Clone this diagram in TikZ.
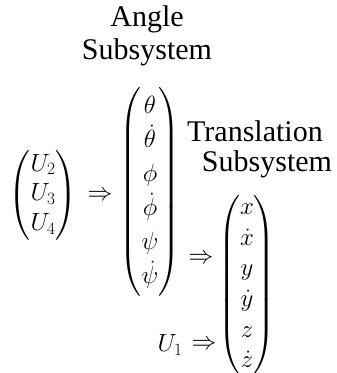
\documentclass[tikz,border=0pt]{standalone}
\usepackage{amsmath}
\usepackage{fontspec}
\setmainfont{Liberation Serif}
\begin{document}
\begin{tikzpicture}[x=1pt,y=-1pt,
  lbl/.style={inner sep=0pt,font=\fontsize{30}{33}\selectfont,align=center},
  mat/.style={inner sep=0pt,font=\fontsize{27}{34}\selectfont}]
\useasboundingbox (0,0) rectangle (337,373);
\node[lbl] (angle) at (147,36) {Angle\\Subsystem};
\node[lbl] (trans1) at (255,131) {Translation};
\node[lbl] (trans2) at (267,164) {Subsystem};
\node[mat] (inp) at (43,195) {$\renewcommand{\arraystretch}{0.88}\begin{pmatrix}U_2\\U_3\\U_4\end{pmatrix}$};
\node[mat] (arr1) at (100,196) {$\Rightarrow$};
\node[mat] (ang) at (150,192) {$\renewcommand{\arraystretch}{1.0}\begin{pmatrix}\theta\\\dot\theta\\\phi\\\dot\phi\\\psi\\\dot\psi\end{pmatrix}$};
\node[mat] (arr2) at (201,259) {$\Rightarrow$};
\node[mat] (tr) at (247,285) {$\renewcommand{\arraystretch}{0.9}\begin{pmatrix}x\\\dot x\\y\\\dot y\\z\\\dot z\end{pmatrix}$};
\node[mat] (u1) at (170,345) {$U_1$};
\node[mat] (arr3) at (204,345) {$\Rightarrow$};
\end{tikzpicture}
\end{document}
